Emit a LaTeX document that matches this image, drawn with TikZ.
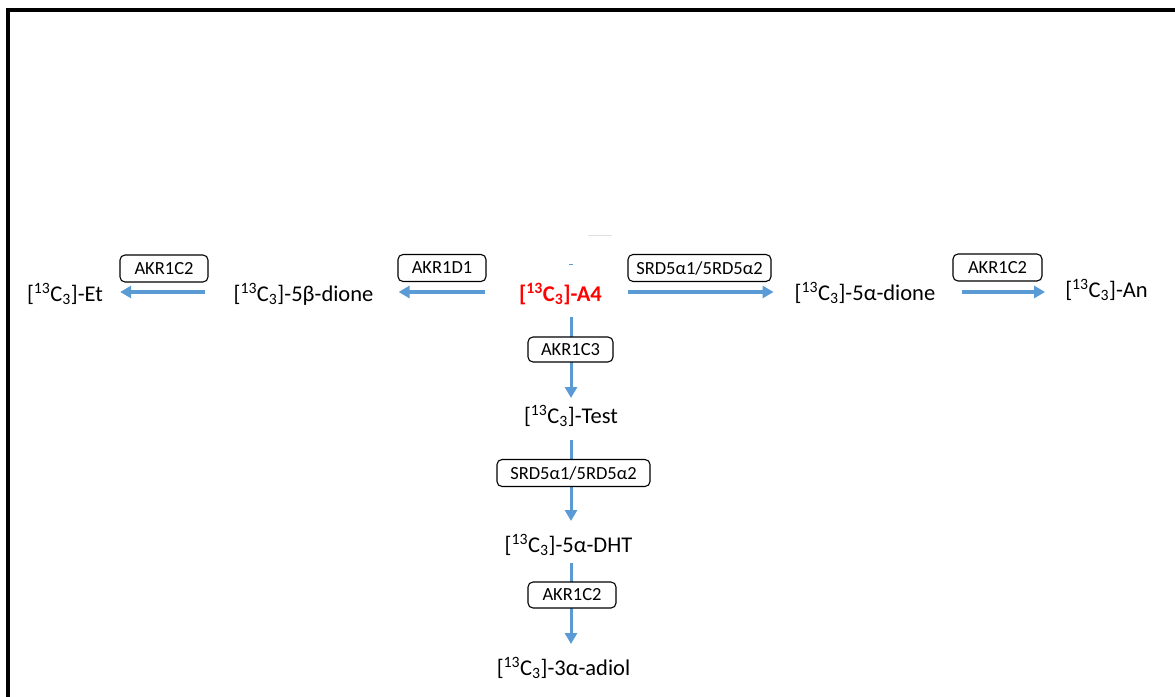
\documentclass[tikz,border=0pt]{standalone}
\usepackage{fontspec}
\setmainfont{Carlito}
\usetikzlibrary{arrows.meta,calc}
\definecolor{arrblue}{RGB}{91,155,213}
\definecolor{a4red}{RGB}{255,0,0}
\newcommand{\isoC}{[\textsuperscript{13}C\textsubscript{3}]}
\begin{document}
\begin{tikzpicture}[x=1pt,y=-1pt,
  mol/.style={font=\fontsize{22.5}{27}\selectfont, inner sep=0pt, anchor=base},
  enz/.style={draw=black, line width=1.1pt, rounded corners=5pt, font=\fontsize{18.5}{22}\selectfont, minimum height=27pt, inner sep=0pt, fill=white},
  arr/.style={draw=arrblue, line width=3.5pt, -{Triangle[length=11pt,width=12pt]}}]
\useasboundingbox (0,0) rectangle (1175,696);
\draw[line width=3.5pt] (8,700) -- (8,10) -- (1180,10);
% artifacts
\draw[arrblue, line width=1pt] (569,264) -- (573,264);
\draw[black!12, line width=0.8pt] (588,235) -- (612,235);
% molecules
\node[mol] (et) at (65,301) {\isoC-Et};
\node[mol] (beta) at (303.5,301) {\isoC-5β-dione};
\node[mol, text=a4red, font=\fontsize{22.5}{27}\selectfont\bfseries] (a4) at (560.5,301) {\isoC-A4};
\node[mol] (alpha) at (865,300) {\isoC-5α-dione};
\node[mol] (an) at (1106.5,297) {\isoC-An};
\node[mol] (test) at (571,423) {\isoC-Test};
\node[mol] (dht) at (568.5,552) {\isoC-5α-DHT};
\node[mol] (adiol) at (563.5,675) {\isoC-3α-adiol};
% arrows
\draw[arr] ($(beta.base west)+(-28,-9)$) -- ($(et.base east)+(17,-9)$);
\draw[arr] ($(a4.base west)+(-34,-9)$) -- ($(beta.base east)+(25,-9)$);
\draw[arr] ($(a4.base east)+(26,-9)$) -- ($(alpha.base west)+(-21,-8)$);
\draw[arr] ($(alpha.base east)+(27,-8)$) -- ($(an.base west)+(-20,-5)$);
\draw[arr, line width=3pt] ($(a4.base -| test.base)+(0,16)$) -- ($(test.base)+(0,-25)$);
\draw[arr, line width=3pt] ($(test.base)+(0,17)$) -- ($(dht.base -| test.base)+(0,-31)$);
\draw[arr, line width=3pt] ($(dht.base -| test.base)+(0,11)$) -- ($(adiol.base -| test.base)+(0,-31)$);
% enzymes
\node[enz, minimum width=88pt] (e1) at (164,268.5) {AKR1C2};
\node[enz, minimum width=88pt] (e2) at (442,268) {AKR1D1};
\node[enz, minimum width=143pt] (e3) at (699.5,268) {SRD5α1/5RD5α2};
\node[enz, minimum width=89pt] (e4) at (997.5,267.5) {AKR1C2};
\node[enz, minimum width=85pt, minimum height=25pt] (e5) at (570.5,349.5) {AKR1C3};
\node[enz, minimum width=153pt] (e6) at (573.5,473) {SRD5α1/5RD5α2};
\node[enz, minimum width=88pt, minimum height=26pt] (e7) at (572,595) {AKR1C2};
\end{tikzpicture}
\end{document}
